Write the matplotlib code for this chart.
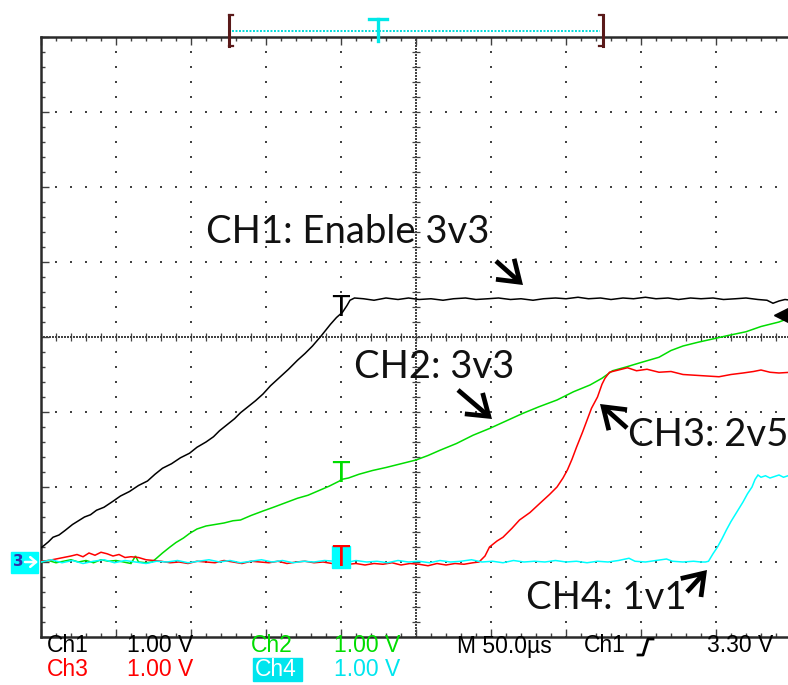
import numpy as np
import matplotlib
matplotlib.use("Agg")
import matplotlib.pyplot as plt
from matplotlib.patches import Rectangle, FancyArrowPatch
from matplotlib.lines import Line2D

# ---- captured traces: (time in us relative to trigger, volts) ----
ch1 = [(-200, 0.19), (-198, 0.22), (-195, 0.27), (-192, 0.33), (-188, 0.36), (-184, 0.42),
       (-179, 0.50), (-175, 0.55), (-171, 0.60), (-167, 0.63), (-163, 0.69), (-158, 0.73),
       (-152, 0.81), (-147, 0.88), (-141, 0.94), (-135, 1.02), (-129, 1.08), (-124, 1.17),
       (-119, 1.25), (-113, 1.31), (-107, 1.39), (-101, 1.45), (-96, 1.53), (-90, 1.60),
       (-85, 1.67), (-81, 1.75), (-76, 1.83), (-71, 1.91), (-67, 1.99), (-62, 2.07),
       (-57, 2.15), (-52, 2.24), (-47, 2.35), (-41, 2.46), (-35, 2.57), (-29, 2.69),
       (-24, 2.78), (-19, 2.88), (-13, 3.02), (-7, 3.17), (-3, 3.26), (1, 3.33), (4, 3.42),
       (6, 3.49), (9, 3.52), (15, 3.51), (22, 3.49), (30, 3.52), (38, 3.50), (45, 3.52),
       (52, 3.50), (60, 3.51), (68, 3.49), (75, 3.51), (83, 3.52), (90, 3.50), (98, 3.51),
       (105, 3.52), (113, 3.50), (120, 3.51), (128, 3.49), (135, 3.51), (143, 3.52),
       (150, 3.51), (158, 3.53), (165, 3.51), (173, 3.52), (180, 3.50), (188, 3.52),
       (195, 3.51), (203, 3.53), (210, 3.51), (218, 3.52), (225, 3.50), (233, 3.52),
       (240, 3.51), (248, 3.52), (255, 3.50), (263, 3.51), (270, 3.52), (278, 3.50),
       (284, 3.49), (288, 3.45), (292, 3.48), (296, 3.50), (300, 3.49)]

ch2 = [(-200, 0.00), (-195, 0.02), (-190, -0.01), (-185, 0.01), (-180, 0.03), (-175, 0.00),
       (-170, 0.02), (-165, -0.01), (-160, 0.03), (-155, 0.01), (-150, 0.02), (-145, 0.00),
       (-140, -0.02), (-137, 0.08), (-135, 0.00), (-130, -0.01), (-126, 0.00), (-123, 0.05),
       (-119, 0.12), (-114, 0.20), (-110, 0.26), (-105, 0.32), (-101, 0.38), (-96, 0.44),
       (-90, 0.48), (-84, 0.50), (-78, 0.52), (-72, 0.55), (-67, 0.56), (-60, 0.62),
       (-52, 0.68), (-45, 0.73), (-37, 0.79), (-29, 0.85), (-22, 0.89), (-15, 0.95),
       (-8, 1.01), (-1, 1.08), (0, 1.10), (5, 1.12), (12, 1.17), (21, 1.22), (30, 1.26),
       (40, 1.31), (50, 1.36), (58, 1.42), (66, 1.49), (77, 1.58), (88, 1.69), (99, 1.78),
       (110, 1.88), (121, 1.98), (132, 2.07), (144, 2.16), (155, 2.27), (166, 2.36),
       (174, 2.45), (181, 2.55), (190, 2.60), (200, 2.66), (212, 2.73), (220, 2.82),
       (228, 2.88), (238, 2.93), (247, 2.97), (258, 3.02), (270, 3.07), (280, 3.14),
       (292, 3.20), (300, 3.26)]

ch3 = [(-200, 0.01), (-195, 0.02), (-190, 0.04), (-185, 0.06), (-180, 0.08), (-176, 0.10),
       (-172, 0.07), (-168, 0.12), (-164, 0.09), (-160, 0.13), (-156, 0.11), (-152, 0.08),
       (-148, 0.10), (-144, 0.06), (-140, 0.07), (-135, 0.06), (-130, 0.03), (-125, 0.02),
       (-120, 0.01), (-114, -0.01), (-108, 0.00), (-102, -0.02), (-96, 0.01), (-90, 0.00),
       (-84, -0.01), (-78, 0.02), (-72, 0.00), (-66, -0.02), (-60, 0.01), (-54, 0.00),
       (-48, -0.01), (-42, 0.01), (-36, -0.02), (-30, 0.00), (-24, 0.01), (-18, -0.01),
       (-12, 0.00), (-6, -0.02), (0, -0.01), (5, -0.03), (10, -0.02), (16, -0.04),
       (22, -0.02), (28, -0.03), (34, -0.01), (40, -0.04), (46, -0.02), (52, -0.03),
       (58, -0.05), (64, -0.02), (70, -0.04), (76, -0.02), (82, -0.03), (88, -0.01),
       (92, 0.00), (96, 0.08), (99, 0.20), (104, 0.28), (108, 0.33), (114, 0.45),
       (119, 0.56), (126, 0.66), (133, 0.79), (139, 0.90), (144, 1.00), (148, 1.12),
       (151, 1.23), (154, 1.37), (157, 1.53), (161, 1.73), (164, 1.89), (167, 2.05),
       (171, 2.20), (174, 2.37), (176, 2.45), (179, 2.53), (185, 2.56), (191, 2.59),
       (197, 2.55), (204, 2.57), (212, 2.53), (220, 2.54), (228, 2.50), (236, 2.49),
       (244, 2.48), (252, 2.47), (260, 2.50), (268, 2.52), (275, 2.54), (280, 2.56),
       (286, 2.53), (292, 2.52), (300, 2.53)]

ch4 = [(-200, 0.00), (-193, 0.03), (-186, -0.01), (-179, 0.02), (-172, -0.02), (-165, 0.01),
       (-158, 0.03), (-151, -0.01), (-144, 0.02), (-137, 0.00), (-130, -0.02), (-123, 0.01),
       (-116, 0.00), (-109, 0.02), (-102, -0.01), (-95, 0.01), (-88, 0.03), (-81, 0.00),
       (-74, 0.02), (-67, -0.01), (-60, 0.01), (-53, 0.03), (-46, 0.00), (-39, 0.02),
       (-32, -0.01), (-25, 0.01), (-18, 0.00), (-11, 0.02), (-4, 0.01), (3, -0.01),
       (10, 0.02), (17, 0.00), (24, 0.01), (31, -0.01), (38, 0.02), (45, 0.00), (52, 0.01),
       (59, -0.01), (66, 0.02), (73, 0.00), (80, 0.01), (87, 0.03), (94, 0.00), (101, 0.01),
       (108, -0.01), (115, 0.02), (122, 0.00), (129, 0.01), (136, 0.00), (143, 0.02),
       (150, 0.00), (157, 0.01), (164, -0.01), (171, 0.01), (178, 0.00), (185, 0.02),
       (192, 0.05), (196, 0.01), (203, 0.00), (210, 0.02), (217, 0.04), (221, 0.01),
       (228, 0.00), (235, 0.01), (240, 0.00), (243, 0.00), (245, 0.01), (248, 0.11),
       (251, 0.20), (254, 0.31), (257, 0.43), (260, 0.54), (264, 0.67), (268, 0.80),
       (271, 0.91), (274, 1.00), (276, 1.10), (278, 1.16), (280, 1.13), (283, 1.15),
       (286, 1.12), (289, 1.14), (292, 1.16), (295, 1.13), (298, 1.15), (300, 1.14)]

trigger_level = 3.30

channel_colors = {"ch1": "#000000", "ch2": "#00dd00", "ch3": "#ff0000", "ch4": "#00ffff"}
labels = ["CH1: Enable 3v3", "CH2: 3v3", "CH3: 2v5", "CH4: 1v1"]

# ---- figure / graticule geometry (pixels) ----
W, H = 788, 685
X0, X1, Y0, Y1 = 41, 791, 37, 637
T_MIN, T_MAX = -200, 300
V_MIN, V_MAX = -1, 7
T_CENTER, V_CENTER = 50, 3
T_PER_PX = (T_MAX - T_MIN) / (X1 - X0)


def fpos(x, y):
    return (x / W, 1 - y / H)


fig = plt.figure(figsize=(W / 100, H / 100), dpi=100)
fig.patch.set_facecolor("white")
ax = fig.add_axes([X0 / W, 1 - Y1 / H, (X1 - X0) / W, (Y1 - Y0) / H])
ax.set_xlim(T_MIN, T_MAX)
ax.set_ylim(V_MIN, V_MAX)
ax.set_facecolor("white")

for side in ("left", "top", "bottom"):
    ax.spines[side].set_linewidth(1.8)
    ax.spines[side].set_color("#2a2a2a")
ax.spines["right"].set_visible(False)

ax.set_xticks(np.arange(T_MIN, T_MAX + 1, 50))
ax.set_xticks(np.arange(T_MIN, T_MAX + 1, 10), minor=True)
ax.set_yticks(np.arange(V_MIN, V_MAX + 0.01, 1))
ax.set_yticks(np.arange(V_MIN, V_MAX + 0.01, 0.2), minor=True)
ax.set_xticklabels([])
ax.set_yticklabels([])
ax.tick_params(which="both", direction="in", top=True, right=False, bottom=True, left=True,
               labelbottom=False, labelleft=False, color="#404040", width=1.0)
ax.tick_params(which="major", length=6)
ax.tick_params(which="minor", length=3)

grid_c = "#444444"
minor_t = np.arange(T_MIN, T_MAX + 0.1, 10)
minor_v = np.arange(V_MIN, V_MAX + 0.01, 0.2)
for t in np.arange(T_MIN + 50, T_MAX, 50):
    if t == T_CENTER:
        continue
    ax.scatter(np.full_like(minor_v, t), minor_v, s=1.6, marker="s", c=grid_c, lw=0, zorder=1)
for v in np.arange(V_MIN + 1, V_MAX, 1):
    if v == V_CENTER:
        continue
    ax.scatter(minor_t, np.full_like(minor_t, v, dtype=float), s=1.6, marker="s", c=grid_c,
               lw=0, zorder=1)

# center cross-hairs with dense dots and minor tick marks
dense_v = np.arange(V_MIN, V_MAX + 0.001, 0.04)
dense_t = np.arange(T_MIN, T_MAX + 0.1, 2)
ax.scatter(np.full_like(dense_v, T_CENTER), dense_v, s=0.9, marker="s", c=grid_c, lw=0, zorder=1)
ax.scatter(dense_t, np.full_like(dense_t, V_CENTER, dtype=float), s=0.9, marker="s", c=grid_c,
           lw=0, zorder=1)
ax.hlines(minor_v, T_CENTER - 2.7, T_CENTER + 2.7, colors=grid_c, lw=0.9, zorder=1)
ax.vlines(minor_t, V_CENTER - 0.055, V_CENTER + 0.055, colors=grid_c, lw=0.9, zorder=1)

# ---- traces ----
traces = {"ch1": ch1, "ch2": ch2, "ch3": ch3, "ch4": ch4}
for name, data in traces.items():
    t, v = zip(*data)
    ax.plot(t, v, color=channel_colors[name], lw=1.1, zorder=3, solid_joinstyle="miter")

# trigger-point markers on each trace
t1, v1 = zip(*ch1)
t2, v2 = zip(*ch2)
t3, v3 = zip(*ch3)
mk = dict(fontsize=20, ha="center", va="baseline", family="DejaVu Sans")
ax.text(0, np.interp(0, t1, v1) - 0.03, "T", color="black", zorder=4, **mk)
ax.text(0, np.interp(0, t2, v2) - 0.03, "T", color=channel_colors["ch2"], zorder=4, **mk)
ax.add_patch(Rectangle((-5.8, -0.08), 12.0, 0.30, color=channel_colors["ch4"], zorder=4))
ax.text(0, np.interp(0, t3, v3) - 0.04, "T", color="red", zorder=5, **mk)

# trigger level pointer on the right edge
ax.plot([293], [trigger_level], marker="<", ms=10, color="black", clip_on=False, zorder=5)

# ground reference marker (left of the graticule, at 0 V)
gx0 = T_MIN - 30 * T_PER_PX
ax.add_patch(Rectangle((gx0, -0.14), 27 * T_PER_PX, 0.28, color="#00ffff", clip_on=False,
                       zorder=5))
ax.text(T_MIN - 23 * T_PER_PX, 0.0, "3", fontsize=11, fontweight="bold", color="#3030b0",
        ha="center", va="center", family="DejaVu Sans", clip_on=False, zorder=6)
ax.annotate("", xy=(T_MIN - 3 * T_PER_PX, 0.0), xytext=(T_MIN - 16 * T_PER_PX, 0.0),
            annotation_clip=False,
            arrowprops=dict(arrowstyle="->, head_length=0.3, head_width=0.25",
                            mutation_scale=14, lw=1.8, color="white", shrinkA=0, shrinkB=0),
            zorder=7)

# ---- annotations ----
ann_font = ["Lato", "DejaVu Sans"]
ann = dict(fontsize=27.5, family=ann_font, va="center", ha="left", color="#111111")
fig.text(*fpos(206, 232), labels[0], **ann)
fig.text(*fpos(354, 367), labels[1], **ann)
fig.text(*fpos(628, 435), labels[2], **ann)
fig.text(*fpos(526, 598), labels[3], **ann)

arrow_style = dict(arrowstyle="->, head_length=0.55, head_width=0.38", lw=3.4, color="black",
                   mutation_scale=26, shrinkA=0, shrinkB=0, joinstyle="miter",
                   capstyle="butt")
for tail, head in [((496, 261), (523, 285)), ((458, 390), (492, 419)),
                   ((627, 428), (600, 404)), ((687, 592), (707, 570))]:
    fig.add_artist(FancyArrowPatch(fpos(*tail), fpos(*head),
                                   transform=fig.transFigure, **arrow_style))

# ---- record-view bar at the top ----
br_c = "#5a1a1a"
for xb, d in [(229, 1), (603, -1)]:
    fig.add_artist(Line2D([xb / W, xb / W], [1 - 15 / H, 1 - 46 / H], color=br_c, lw=2.2))
    fig.add_artist(Line2D([xb / W, (xb + 4 * d) / W], [1 - 15 / H, 1 - 15 / H], color=br_c, lw=1.6))
    fig.add_artist(Line2D([xb / W, (xb + 4 * d) / W], [1 - 46 / H, 1 - 46 / H], color=br_c, lw=1.6))
fig.add_artist(Line2D([232 / W, 600 / W], [1 - 31 / H, 1 - 31 / H], color="#00dcdc", lw=1.4,
                      linestyle=(0, (1, 0.8))))
fig.add_artist(Line2D([369 / W, 387 / W], [1 - 19 / H, 1 - 19 / H], color="#00e8e8", lw=2.4))
fig.add_artist(Line2D([378 / W, 378 / W], [1 - 19 / H, 1 - 41 / H], color="#00e8e8", lw=2.4))

# ---- readout line ----
ro_font = ["Liberation Sans", "DejaVu Sans"]
ro_size = 16.5
row1, row2 = 646, 669
readout = [
    (47, row1, "Ch1", "black"), (127, row1, "1.00 V", "black"),
    (251, row1, "Ch2", "#00dd00"), (334, row1, "1.00 V", "#00dd00"),
    (457, row1, "M 50.0\u00b5s", "black"), (584, row1, "Ch1", "black"),
    (707, row1, "3.30 V", "black"),
    (47, row2, "Ch3", "red"), (127, row2, "1.00 V", "red"),
    (334, row2, "1.00 V", "#00e5ee"),
]
for x, y, s, c in readout:
    fig.text(*fpos(x, y), s, fontsize=ro_size, family=ro_font, color=c, ha="left", va="center")
fig.add_artist(Rectangle(fpos(253, 681), 49 / W, 23 / H, transform=fig.transFigure,
                         color="#00e5ee", zorder=2))
fig.text(*fpos(255, row2), "Ch4", fontsize=ro_size, family=ro_font, color="white", ha="left",
         va="center", zorder=3)
# rising-edge slope symbol
fig.add_artist(Line2D([x / W for x in (638, 643, 648, 653)],
                      [1 - y / H for y in (655, 655, 639, 639)], color="black", lw=2.0))

fig.savefig("out.png", dpi=100, facecolor="white")
